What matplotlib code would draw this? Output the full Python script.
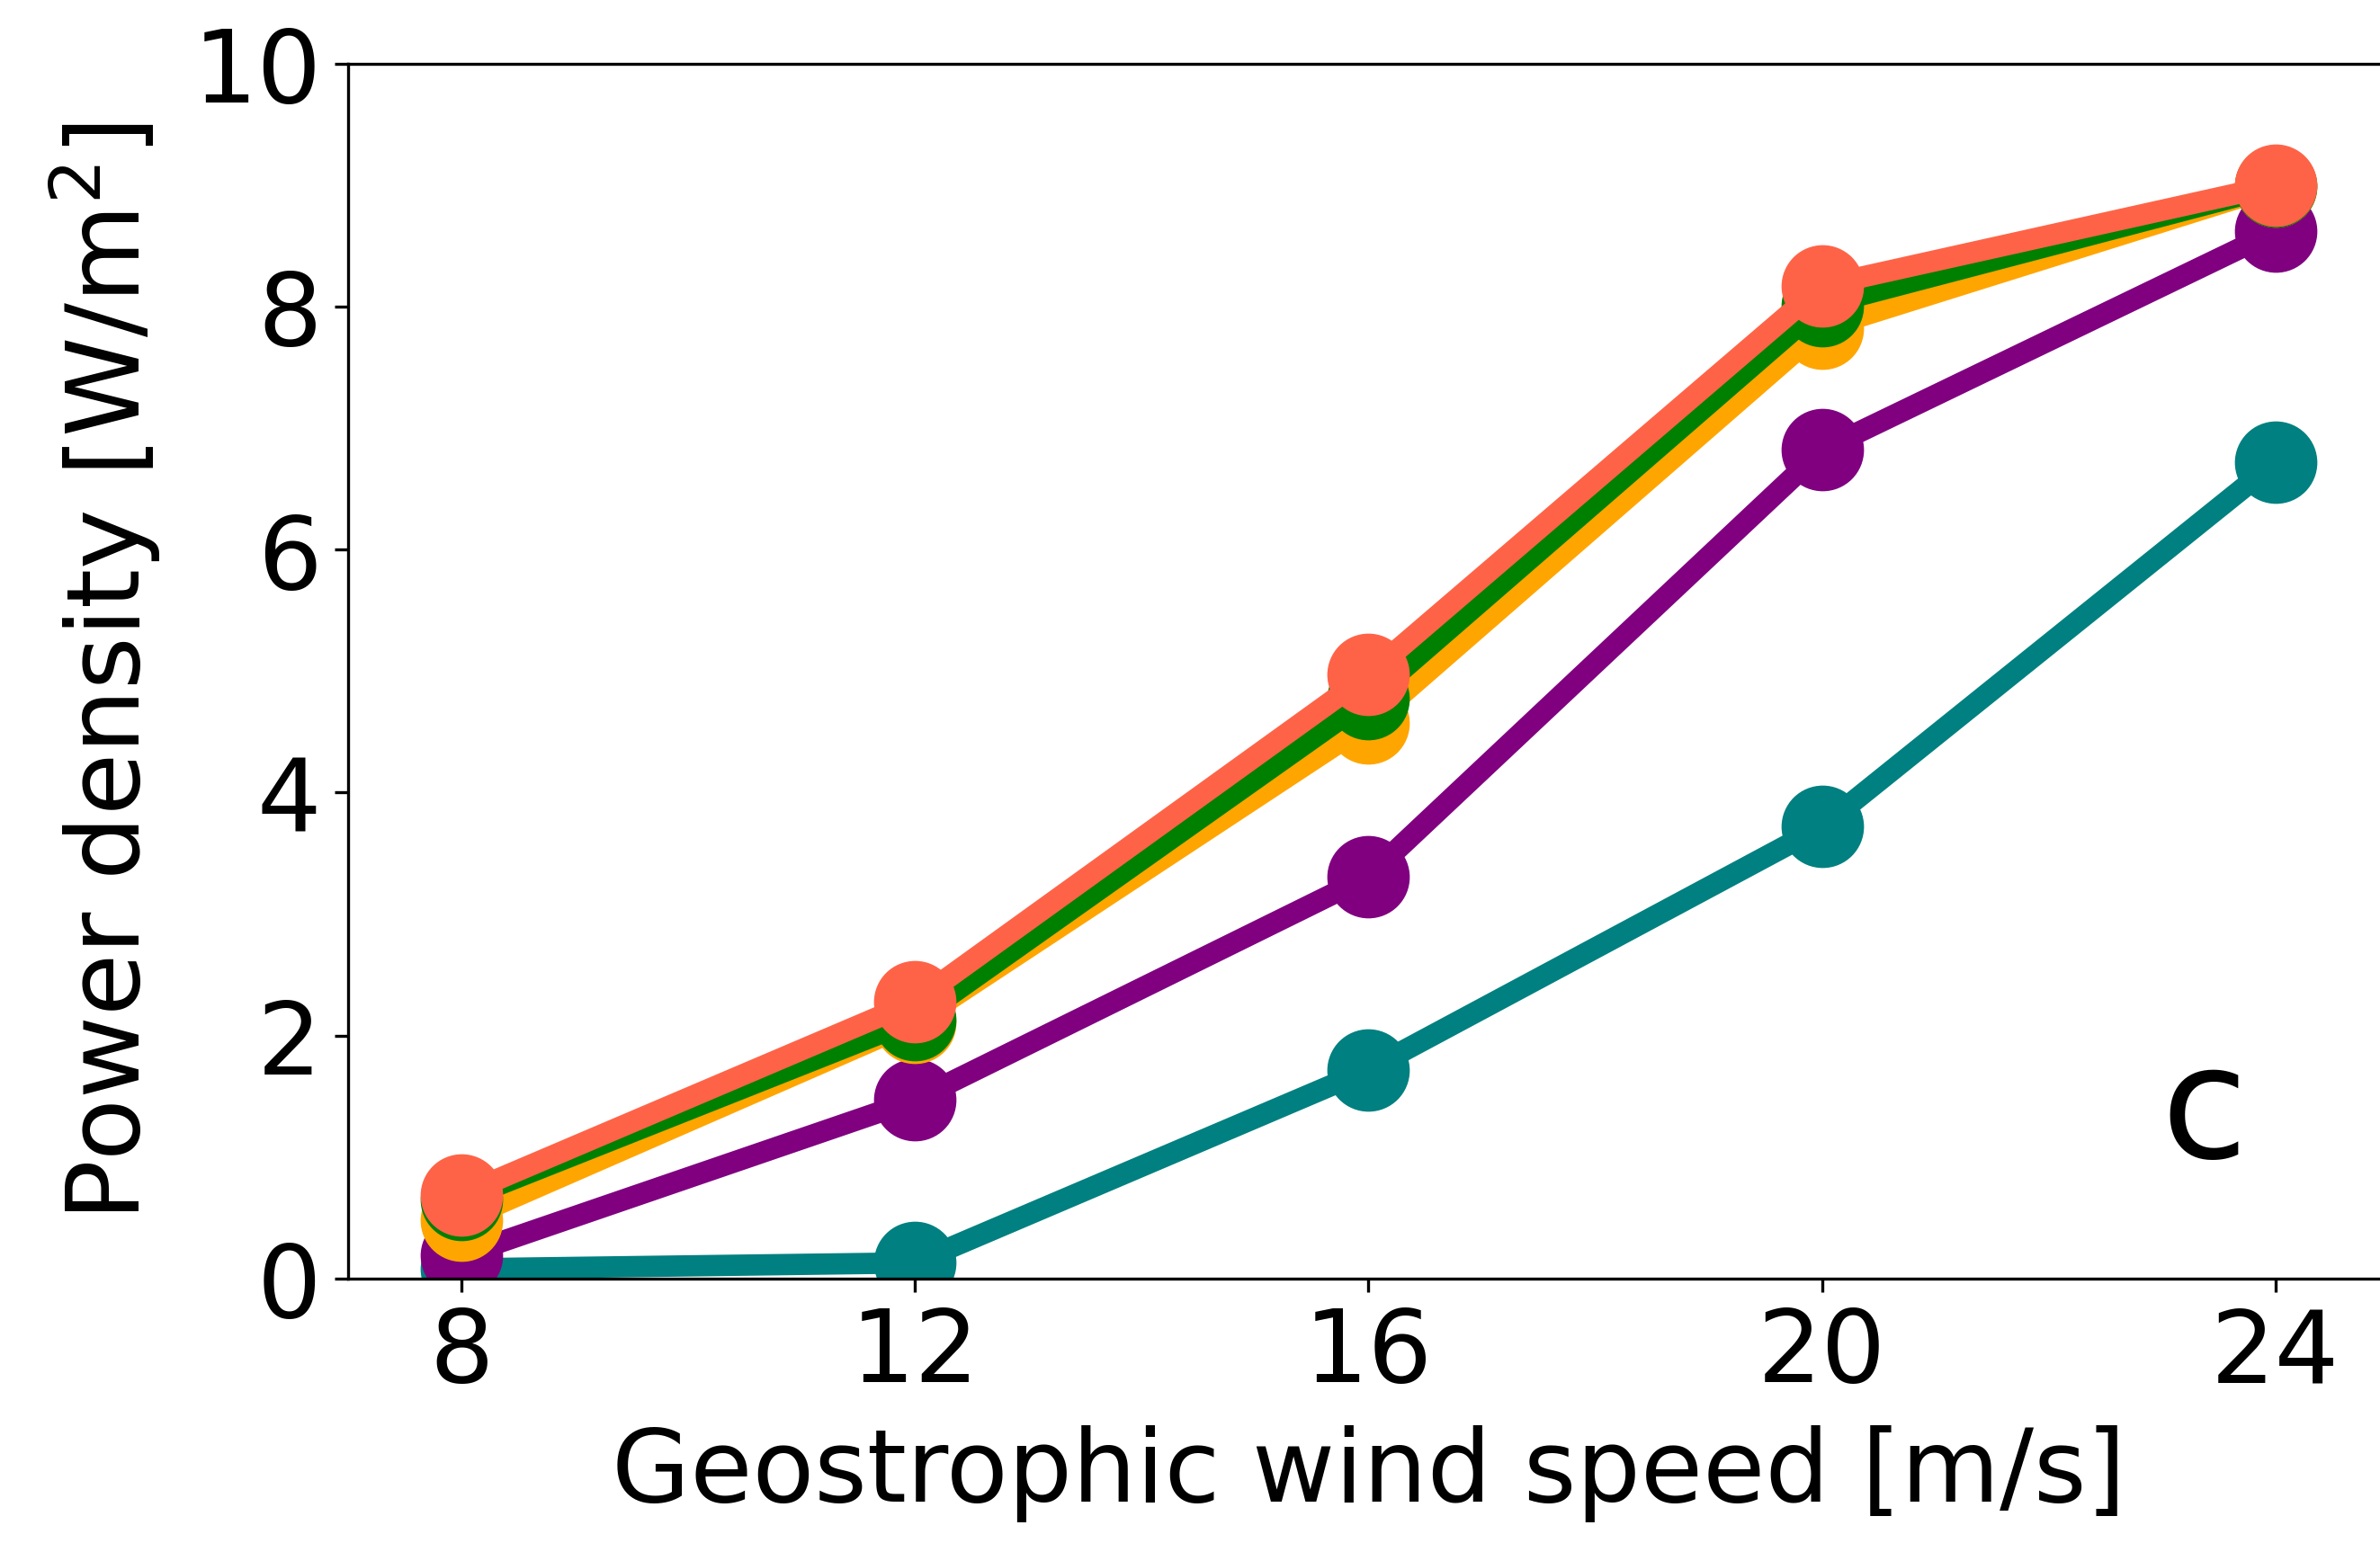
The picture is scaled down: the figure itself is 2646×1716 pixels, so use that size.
import matplotlib
matplotlib.use("Agg")
import matplotlib.pyplot as plt

# geostrophic wind speed [m/s]
wind_speed = [8, 12, 16, 20, 24]

# power density [W/m^2] for each case
teal_vals = [0.08, 0.13, 1.72, 3.72, 6.72]
purple_vals = [0.19, 1.47, 3.31, 6.82, 8.62]
orange_vals = [0.48, 2.11, 4.57, 7.82, 8.99]
green_vals = [0.65, 2.13, 4.77, 8.01, 8.99]
tomato_vals = [0.69, 2.28, 4.97, 8.17, 9.00]

series = [
    (teal_vals, "teal"),
    (purple_vals, "purple"),
    (orange_vals, "orange"),
    (green_vals, "green"),
    (tomato_vals, "tomato"),
]

fs = 27

fig = plt.figure(figsize=(8.82, 5.72333), dpi=300)
ax = fig.add_axes([0.14615, 0.17123, 0.8576, 0.78701])

for vals, col in series:
    ax.plot(wind_speed, vals, "o-", color=col, linewidth=5.7, markersize=21)

ax.set_xlim(7, 25)
ax.set_ylim(0, 10)
ax.set_xticks(wind_speed)
ax.set_yticks([0, 2, 4, 6, 8, 10])
ax.tick_params(labelsize=fs)
ax.set_xlabel("Geostrophic wind speed [m/s]", fontsize=fs, labelpad=6)
ax.set_ylabel("Power density [W/m$^2$]", fontsize=fs, labelpad=8)

# panel letter
ax.text(23.37, 1.0, "c", fontsize=42, ha="center", va="baseline")

# end of the y label from the panel below
fig.text(0.0348, 1 - 1705 / 1717, "]", rotation=90, fontsize=fs,
         ha="center", va="top")

fig.savefig("out.png", dpi=300)
